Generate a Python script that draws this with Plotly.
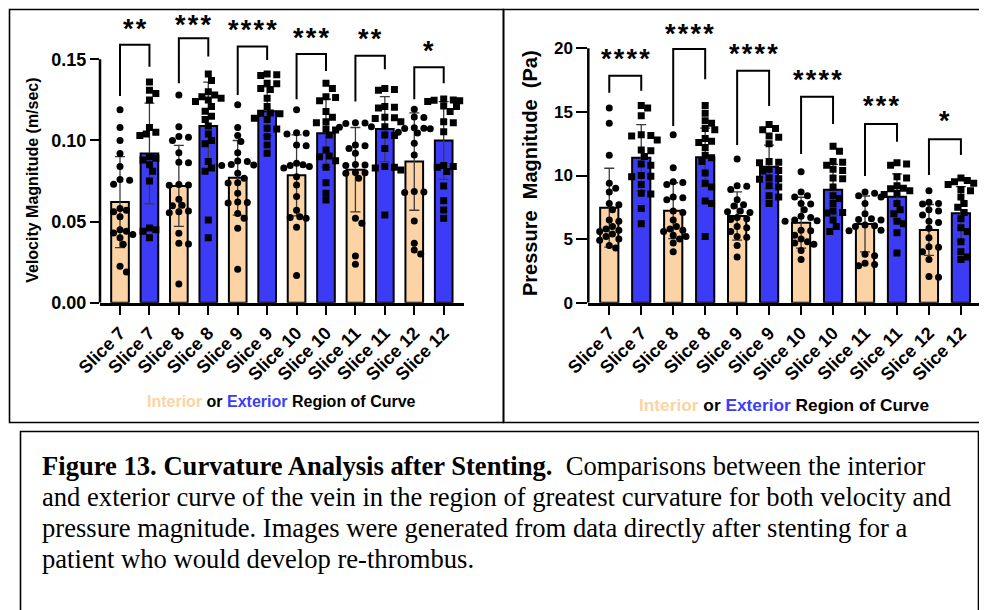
import plotly.graph_objects as go

# ---------------- data ----------------
tick_labels = ["Slice 7", "Slice 7", "Slice 8", "Slice 8", "Slice 9", "Slice 9",
               "Slice 10", "Slice 10", "Slice 11", "Slice 11", "Slice 12", "Slice 12"]

vel_int_mean = [0.062, 0.072, 0.077, 0.0785, 0.082, 0.087]
vel_int_sd = [0.028, 0.025, 0.023, 0.025, 0.026, 0.030]
vel_ext_mean = [0.092, 0.109, 0.118, 0.1044, 0.107, 0.100]
vel_ext_sd = [0.031, 0.027, 0.015, 0.021, 0.020, 0.024]

pres_int_mean = [7.47, 7.23, 6.82, 6.29, 6.19, 5.72]
pres_int_sd = [3.1, 2.2, 1.9, 2.0, 2.2, 2.0]
pres_ext_mean = [11.40, 11.43, 10.69, 8.88, 8.33, 7.03]
pres_ext_sd = [2.6, 2.3, 1.7, 2.0, 1.8, 2.1]

vel_int_pts = [
    [0.119, 0.108, 0.100, 0.092, 0.084, 0.076, 0.0755, 0.073, 0.058, 0.057, 0.056, 0.053,
     0.045, 0.044, 0.043, 0.042, 0.040, 0.036, 0.0225, 0.019],
    [0.128, 0.1085, 0.1024, 0.1020, 0.100, 0.0925, 0.0866, 0.0862, 0.0726, 0.0724, 0.0728,
     0.0637, 0.060, 0.0598, 0.056, 0.0565, 0.0555, 0.0428, 0.0366, 0.0362, 0.0115],
    [0.122, 0.108, 0.103, 0.0993, 0.0925, 0.0874, 0.0870, 0.0852, 0.0849, 0.0845, 0.0798,
     0.0767, 0.074, 0.0738, 0.0674, 0.0620, 0.0617, 0.0614, 0.055, 0.052, 0.0459, 0.0206],
    [0.119, 0.1048, 0.1045, 0.1040, 0.0972, 0.0968, 0.086, 0.085, 0.0845, 0.084, 0.083,
     0.0777, 0.0726, 0.0654, 0.057, 0.053, 0.0525, 0.052, 0.0465, 0.0167],
    [0.111, 0.1108, 0.1105, 0.1085, 0.1082, 0.0972, 0.0968, 0.095, 0.0921, 0.0852, 0.0849,
     0.0845, 0.0803, 0.0801, 0.0798, 0.0767, 0.052, 0.049, 0.0288, 0.0237],
    [0.1192, 0.1145, 0.1141, 0.1078, 0.1076, 0.1074, 0.1072, 0.1050, 0.1046, 0.0983, 0.0911,
     0.0686, 0.0683, 0.0680, 0.0504, 0.0366, 0.0325, 0.030],
]
vel_ext_pts = [
    [0.136, 0.131, 0.129, 0.125, 0.108, 0.105, 0.104, 0.103, 0.090, 0.089, 0.088, 0.085,
     0.081, 0.075, 0.046, 0.045, 0.044, 0.040],
    [0.141, 0.137, 0.130, 0.128, 0.127, 0.126, 0.125, 0.124, 0.121, 0.118, 0.115, 0.113,
     0.109, 0.104, 0.100, 0.098, 0.087, 0.083, 0.081, 0.051, 0.040],
    [0.141, 0.1405, 0.140, 0.1353, 0.135, 0.132, 0.1315, 0.126, 0.121, 0.117, 0.1168, 0.1165,
     0.1137, 0.113, 0.1075, 0.107, 0.1023, 0.0972, 0.0921],
    [0.1353, 0.132, 0.127, 0.1265, 0.1245, 0.1178, 0.1143, 0.1116, 0.111, 0.107, 0.1065,
     0.1034, 0.0941, 0.0904, 0.090, 0.0875, 0.0835, 0.074, 0.0674, 0.0633],
    [0.132, 0.1315, 0.131, 0.121, 0.1205, 0.120, 0.1143, 0.114, 0.1135, 0.1116, 0.1085,
     0.1034, 0.103, 0.095, 0.0839, 0.0835, 0.083, 0.0818, 0.054],
    [0.1255, 0.125, 0.1248, 0.1245, 0.124, 0.1212, 0.121, 0.1178, 0.1116, 0.111, 0.1054,
     0.0845, 0.0839, 0.0835, 0.0808, 0.072, 0.0629, 0.0572, 0.052],
]
pres_int_pts = [
    [15.3, 14.1, 11.6, 9.4, 9.0, 8.7, 7.8, 7.7, 7.3, 6.5, 6.4, 6.0, 5.8, 5.7, 5.6, 5.4, 5.2,
     5.0, 4.9, 4.5, 4.3],
    [13.2, 10.6, 9.5, 9.45, 9.3, 8.3, 8.25, 8.1, 7.2, 7.1, 6.5, 6.0, 5.8, 5.7, 5.6, 5.3, 5.2,
     5.0, 4.7, 4.0],
    [11.3, 9.2, 9.15, 8.9, 8.1, 7.7, 7.6, 7.2, 7.15, 7.1, 6.7, 6.6, 6.55, 6.0, 5.9, 5.6, 5.2,
     5.15, 4.5, 3.6],
    [10.3, 8.7, 8.4, 8.3, 7.8, 7.75, 7.3, 6.8, 6.7, 6.5, 6.45, 6.4, 5.7, 5.65, 5.3, 5.0, 4.8,
     4.7, 4.6, 4.1, 3.4],
    [8.7, 8.6, 8.4, 8.3, 7.8, 7.0, 6.6, 6.55, 6.5, 6.1, 6.05, 6.0, 5.7, 5.65, 3.8, 3.7, 3.1,
     3.0, 2.9],
    [8.8, 7.9, 7.8, 7.75, 7.3, 7.2, 6.9, 6.4, 6.3, 5.85, 5.1, 4.4, 4.35, 4.0, 3.4, 2.05, 2.0],
]
pres_ext_pts = [
    [15.5, 15.3, 14.7, 13.2, 13.15, 13.1, 12.8, 12.0, 11.95, 11.5, 10.9, 10.8, 10.0, 9.95,
     9.9, 9.3, 8.6, 8.55, 7.4, 6.2],
    [15.5, 14.9, 14.3, 14.1, 13.7, 13.6, 12.9, 12.7, 12.6, 12.2, 11.6, 11.4, 11.1, 10.2, 9.4,
     9.1, 8.0, 7.8, 5.2],
    [14.0, 13.7, 13.6, 13.1, 13.0, 12.5, 11.1, 11.05, 11.0, 10.5, 10.4, 10.35, 9.8, 9.75, 9.7,
     9.2, 9.1, 8.4, 8.3, 7.8],
    [12.3, 11.9, 11.1, 11.05, 10.8, 10.5, 10.4, 9.8, 9.75, 9.1, 8.4, 8.2, 7.8, 7.2, 7.1, 7.05,
     6.5, 6.0, 5.6],
    [11.0, 10.9, 10.8, 9.9, 9.8, 9.2, 9.0, 8.95, 8.8, 8.6, 8.5, 7.8, 7.3, 7.0, 6.4, 6.2, 5.5,
     3.9],
    [9.8, 9.6, 9.5, 9.4, 9.3, 8.9, 8.8, 8.3, 7.8, 7.5, 7.1, 6.6, 5.9, 5.6, 4.8, 4.0, 3.6, 3.4],
]

vel_stars = ["**", "***", "****", "***", "**", "*"]
vel_br_left = [0.1274, 0.1353, 0.128, 0.1254, 0.124, 0.1254]
vel_br_top = [0.159, 0.163, 0.158, 0.1533, 0.1523, 0.1451]
vel_br_right = [0.1455, 0.1517, 0.1496, 0.1428, 0.1439, 0.1353]
vel_star_y = [0.1706, 0.1732, 0.1702, 0.165, 0.1644, 0.1568]

pres_stars = ["****", "****", "****", "****", "***", "*"]
pres_br_left = [16.5, 13.9, 12.4, 11.69, 9.96, 10.04]
pres_br_top = [17.85, 19.95, 18.24, 16.2, 14.05, 12.85]
pres_br_right = [16.67, 17.56, 15.46, 14.05, 12.66, 11.61]
pres_star_y = [19.42, 21.35, 19.79, 17.77, 15.68, 14.5]

vel_ticks = [0.0, 0.05, 0.10, 0.15]
pres_ticks = [0, 5, 10, 15, 20]

caption_lines = [
    "<b>Figure 13. Curvature Analysis after Stenting.</b>\u00a0 Comparisons between the interior",
    "and exterior curve of the vein in the region of greatest curvature for both velocity and",
    "pressure magnitude. Images were generated from data directly after stenting for a",
    "patient who would develop re-thrombus.",
]

# ---------------- styling ----------------
W, H = 987, 610
OFF = 8  # page body margin in the browser
PEACH = "#FCD3A4"
BLUE = "#3C3CF6"
SANS = "Liberation Sans, Arial, sans-serif"
SERIF = "Liberation Serif, Times New Roman, serif"

def px(x):
    return (x - OFF) / W

def py(y):
    return 1 - (y - OFF) / H

# plot areas in (screen) pixels
L_X0, L_X1 = 100, 464
R_X0, R_X1 = 588.3, 983.3
Y_BOT, Y_TOP = 302.7, 10.7
L_YMAX = 0.18
R_YMAX = (Y_BOT - Y_TOP) / 12.72
L_XR = [-0.68, 11.69]
R_XR = [-0.656, 11.7]


def swarm(vals, ypu, xpc, d=6.6, step=3.2):
    order = sorted(range(len(vals)), key=lambda i: -vals[i])
    placed = []
    offs = [0.0] * len(vals)
    cands = [0.0] + [s * j * step for j in range(1, 6) for s in (1, -1)]
    for i in order:
        y = vals[i] * ypu
        best, bestd, best_fallback = None, -1, 0.0
        for c in cands:
            md = min([((c - a) ** 2 + (y - b) ** 2) ** 0.5 for a, b in placed] or [99])
            if md >= d:
                best = c
                break
            if md > bestd:
                bestd, best_fallback = md, c
        if best is None:
            best = best_fallback
        placed.append((best, y))
        offs[i] = best / xpc
    return offs


fig = go.Figure()


def add_chart(xa, ya, int_mean, int_sd, ext_mean, ext_sd, int_pts, ext_pts, ypu, xpc, bw):
    n = len(int_mean)
    xi = [2 * i for i in range(n)]
    xe = [2 * i + 1 for i in range(n)]
    for xs, m, sd, col in ((xi, int_mean, int_sd, PEACH), (xe, ext_mean, ext_sd, BLUE)):
        fig.add_trace(go.Bar(
            x=xs, y=m, width=bw, xaxis=xa, yaxis=ya,
            marker=dict(color=col, line=dict(color="black", width=2)),
            error_y=dict(type="data", array=sd, visible=True, color="#3a3a3a",
                         thickness=1.3, width=5),
            showlegend=False, hoverinfo="skip"))
    for xs, pts, sym in ((xi, int_pts, "circle"), (xe, ext_pts, "square")):
        X, Y = [], []
        for x0, vals in zip(xs, pts):
            offs = swarm(vals, ypu, xpc)
            X += [x0 + o for o in offs]
            Y += vals
        fig.add_trace(go.Scatter(
            x=X, y=Y, mode="markers", xaxis=xa, yaxis=ya,
            marker=dict(symbol=sym, size=7, color="black", line=dict(width=0)),
            showlegend=False, hoverinfo="skip"))


L_YPU = (Y_BOT - Y_TOP) / L_YMAX
L_XPC = (L_X1 - L_X0) / (L_XR[1] - L_XR[0])
R_YPU = 12.72
R_XPC = (R_X1 - R_X0) / (R_XR[1] - R_XR[0])

add_chart("x", "y", vel_int_mean, vel_int_sd, vel_ext_mean, vel_ext_sd,
          vel_int_pts, vel_ext_pts, L_YPU, L_XPC, 0.6)
add_chart("x2", "y2", pres_int_mean, pres_int_sd, pres_ext_mean, pres_ext_sd,
          pres_int_pts, pres_ext_pts, R_YPU, R_XPC, 0.57)

shapes = []
annotations = []


def brackets(xref, yref, lefts, tops, rights, stars, star_y):
    for i in range(len(tops)):
        x0, x1 = 2 * i, 2 * i + 1
        shapes.append(dict(
            type="path", xref=xref, yref=yref,
            path=f"M {x0},{lefts[i]} L {x0},{tops[i]} L {x1},{tops[i]} L {x1},{rights[i]}",
            line=dict(color="black", width=2)))
        annotations.append(dict(
            x=(x0 + x1) / 2, y=star_y[i], xref=xref, yref=yref, showarrow=False,
            text="<b>" + "\u200a".join(stars[i]) + "</b>", yshift=-3,
            font=dict(family=SANS, size=27, color="black"),
            xanchor="center", yanchor="middle"))


brackets("x", "y", vel_br_left, vel_br_top, vel_br_right, vel_stars, vel_star_y)
brackets("x2", "y2", pres_br_left, pres_br_top, pres_br_right, pres_stars, pres_star_y)

# y axis lines that stop at the top tick
shapes.append(dict(type="line", xref="x domain", yref="y", x0=0, x1=0, y0=0, y1=vel_ticks[-1],
                   line=dict(color="black", width=2.5)))
shapes.append(dict(type="line", xref="x2 domain", yref="y2", x0=0, x1=0, y0=0, y1=pres_ticks[-1],
                   line=dict(color="black", width=2.5)))

# panel frames
shapes.append(dict(type="rect", xref="paper", yref="paper", x0=px(9.5), x1=px(503.5),
                   y0=py(422.5), y1=py(9.5), line=dict(color="black", width=1.6)))
shapes.append(dict(type="rect", xref="paper", yref="paper", x0=px(503.5), x1=px(1005),
                   y0=py(422.5), y1=py(9.5), line=dict(color="black", width=1.6)))
shapes.append(dict(type="rect", xref="paper", yref="paper", x0=px(20.5), x1=px(978.5),
                   y0=py(640), y1=py(431.5), line=dict(color="black", width=1.6)))

# axis titles
xt = ("<b><span style='color:%s'>Interior</span> or <span style='color:%s'>Exterior</span>"
      " Region of Curve</b>") % (PEACH, BLUE)
annotations.append(dict(x=px(281.3), y=py(401), xref="paper", yref="paper", text=xt,
                        showarrow=False, font=dict(family=SANS, size=16, color="black"),
                        xanchor="center", yanchor="middle"))
annotations.append(dict(x=px(784.2), y=py(405), xref="paper", yref="paper", text=xt,
                        showarrow=False, font=dict(family=SANS, size=17.3, color="black"),
                        xanchor="center", yanchor="middle"))
annotations.append(dict(x=px(33), y=py(180.8), xref="paper", yref="paper",
                        text="<b>Velocity Magnitude (m/sec)</b>", textangle=-90,
                        showarrow=False, font=dict(family=SANS, size=16, color="black"),
                        xanchor="center", yanchor="middle"))
annotations.append(dict(x=px(530.7), y=py(173.3), xref="paper", yref="paper",
                        text="<b>Pressure\u00a0\u00a0Magnitude\u00a0\u00a0(Pa)</b>", textangle=-90,
                        showarrow=False, font=dict(family=SANS, size=20, color="black"),
                        xanchor="center", yanchor="middle"))

# caption
for k, line in enumerate(caption_lines):
    annotations.append(dict(x=px(40), y=py(466 + 31 * k), xref="paper", yref="paper",
                            text=line, showarrow=False, align="left",
                            font=dict(family=SERIF, size=26.6, color="black"),
                            xanchor="left", yanchor="middle"))

xaxis_common = dict(tickmode="array", tickvals=list(range(len(tick_labels))),
                    ticktext=["<b>%s</b>" % t for t in tick_labels], tickangle=-45,
                    ticks="outside", ticklen=10, tickwidth=2, tickcolor="black",
                    showline=True, linewidth=2.5, linecolor="black",
                    showgrid=False, zeroline=False, automargin=False)
yaxis_common = dict(ticks="outside", tickwidth=2, tickcolor="black", showline=False,
                    showgrid=False, zeroline=False, tickmode="array", automargin=False)

fig.update_layout(
    width=W, height=H, margin=dict(l=0, r=0, t=0, b=0, pad=0, autoexpand=False),
    paper_bgcolor="white", plot_bgcolor="white", barmode="overlay", showlegend=False,
    xaxis=dict(domain=[px(L_X0), px(L_X1)], range=L_XR, anchor="y",
               tickfont=dict(family=SANS, size=18, color="black"), **xaxis_common),
    yaxis=dict(domain=[py(Y_BOT), py(Y_TOP)], range=[0, L_YMAX], anchor="x",
               tickvals=vel_ticks, ticktext=["<b>%.2f</b>" % v for v in vel_ticks], ticklen=9,
               tickfont=dict(family=SANS, size=18, color="black"), **yaxis_common),
    xaxis2=dict(domain=[px(R_X0), px(R_X1)], range=R_XR, anchor="y2",
                tickfont=dict(family=SANS, size=18, color="black"), **xaxis_common),
    yaxis2=dict(domain=[py(Y_BOT), py(Y_TOP)], range=[0, R_YMAX], anchor="x2",
                tickvals=pres_ticks, ticktext=["<b>%d</b>" % v for v in pres_ticks], ticklen=11,
                tickfont=dict(family=SANS, size=17, color="black"), **yaxis_common),
    shapes=shapes, annotations=annotations,
)

fig.write_html("out.html")
